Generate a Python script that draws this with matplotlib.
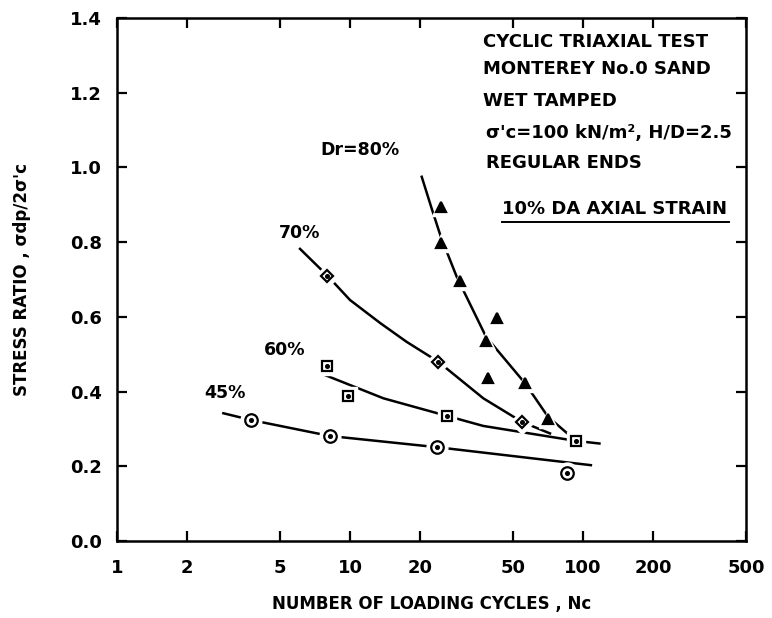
import numpy as np
import matplotlib
matplotlib.use("Agg")
import matplotlib.pyplot as plt
from matplotlib.lines import Line2D

plt.rcParams['font.family'] = ['DejaVu Sans']
plt.rcParams['font.weight'] = 'bold'
plt.rcParams['axes.labelweight'] = 'bold'

# test points
n_80 = [24.5, 24.5, 29.5, 42.9, 38.3, 39.2, 56.4, 70.6]
r_80 = [0.893, 0.798, 0.696, 0.596, 0.536, 0.437, 0.422, 0.326]
n_70 = [8.0, 23.9, 54.6]
r_70 = [0.710, 0.480, 0.319]
n_60 = [8.0, 9.84, 26.0, 93.0]
r_60 = [0.469, 0.388, 0.335, 0.268]
n_45 = [3.75, 8.21, 23.7, 85.1]
r_45 = [0.324, 0.281, 0.251, 0.181]

# hand drawn trend curves
c80_n = [20.3, 22.4, 24.5, 28.7, 38.3, 56.4, 70.6, 92.4]
c80_r = [0.975, 0.890, 0.815, 0.707, 0.547, 0.422, 0.333, 0.270]
c70_n = [6.1, 8.0, 10.0, 13.5, 17.5, 23.9, 37.3, 54.6, 72.1]
c70_r = [0.782, 0.710, 0.645, 0.583, 0.533, 0.480, 0.382, 0.319, 0.288]
c60_n = [7.4, 13.9, 26.0, 37.3, 93.0, 117.5]
c60_r = [0.450, 0.382, 0.335, 0.308, 0.268, 0.261]
c45_n = [2.86, 3.75, 8.21, 23.7, 108]
c45_r = [0.342, 0.324, 0.281, 0.251, 0.203]

x_ticks = [1, 2, 5, 10, 20, 50, 100, 200, 500]
x_labels = ['1', '2', '5', '10', '20', '50', '100', '200', '500']
y_ticks = [0.0, 0.2, 0.4, 0.6, 0.8, 1.0, 1.2, 1.4]

fig = plt.figure(figsize=(7.72, 6.18), dpi=100)
ax = fig.add_axes([117 / 772, 1 - 541 / 618, 629 / 772, 523 / 618])
ax.set_xscale('log')
ax.set_xlim(1, 500)
ax.set_ylim(0, 1.4)

lw = 1.8
for cn, cr in [(c80_n, c80_r), (c70_n, c70_r), (c60_n, c60_r), (c45_n, c45_r)]:
    ax.plot(cn, cr, color='black', lw=lw, zorder=2)

def pts(n, r, marker, ms, filled):
    # white halo so the line breaks around each symbol, like the original
    ax.plot(n, r, ls='none', marker=marker, ms=ms + 6, mfc='white', mec='white', zorder=3)
    ax.plot(n, r, ls='none', marker=marker, ms=ms, mfc='black' if filled else 'white',
            mec='black', mew=1.6, zorder=4)
    if not filled:
        ax.plot(n, r, ls='none', marker='o', ms=2.6, color='black', zorder=5)

pts(n_80, r_80, '^', 7.5, True)
pts(n_70, r_70, 'D', 6.5, False)
pts(n_60, r_60, 's', 7, False)
pts(n_45, r_45, 'o', 9, False)

ax.set_xticks(x_ticks)
ax.set_xticklabels(x_labels)
ax.xaxis.set_minor_locator(matplotlib.ticker.NullLocator())
ax.set_yticks(y_ticks)
ax.set_yticklabels(['%.1f' % v for v in y_ticks])
ax.tick_params(direction='in', length=7, width=1.6, labelsize=13,
               top=True, right=True)
ax.tick_params(axis='x', pad=13)
ax.tick_params(axis='y', pad=11)
for s in ax.spines.values():
    s.set_linewidth(1.8)

ax.set_xlabel('NUMBER OF LOADING CYCLES , Nc', fontsize=12, labelpad=13)
ax.set_ylabel("STRESS RATIO , σdp/2σ'c", fontsize=12, labelpad=28)

# curve labels
ax.text(7.43, 1.047, 'Dr=80%', fontsize=12.5, ha='left', va='center')
ax.text(6.06, 0.824, '70%', fontsize=12.5, ha='center', va='center')
ax.text(5.26, 0.511, '60%', fontsize=12.5, ha='center', va='center')
ax.text(2.91, 0.397, '45%', fontsize=12.5, ha='center', va='center')

# test description
info = [(37.3, 1.336, 'CYCLIC TRIAXIAL TEST'),
        (37.3, 1.263, 'MONTEREY No.0 SAND'),
        (37.3, 1.178, 'WET TAMPED'),
        (38.5, 1.093, "σ'c=100 kN/m², H/D=2.5"),
        (38.5, 1.013, 'REGULAR ENDS')]
for xx, yy, s in info:
    ax.text(xx, yy, s, fontsize=13, ha='left', va='center')
crit = ax.text(44.8, 0.890, '10% DA AXIAL STRAIN', fontsize=13, ha='left', va='center')

fig.canvas.draw()
bb = crit.get_window_extent(fig.canvas.get_renderer())
inv = fig.transFigure.inverted()
(x0, y0), (x1, _) = inv.transform([(bb.x0, bb.y0 - 4), (bb.x1 + 2, bb.y0 - 4)])
fig.add_artist(Line2D([x0, x1], [y0, y0], color='black', lw=1.4, transform=fig.transFigure))

fig.savefig('out.png', dpi=100)
